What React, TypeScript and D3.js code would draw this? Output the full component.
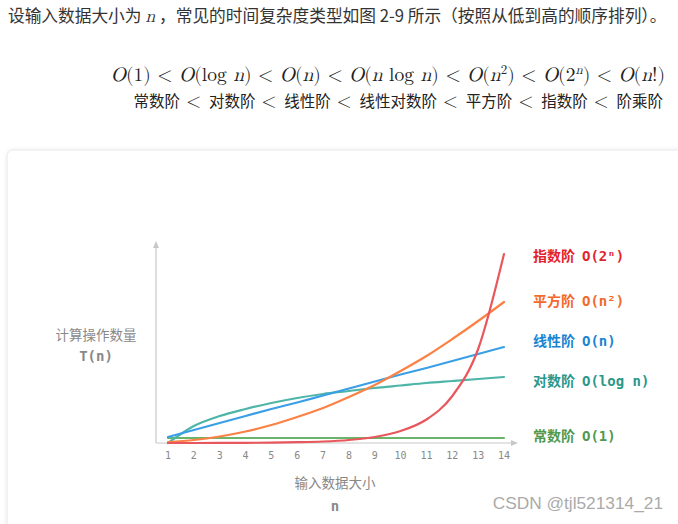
import React from "react";
import * as d3 from "d3";

const nValues = [1, 2, 3, 4, 5, 6, 7, 8, 9, 10, 11, 12, 13, 14];
const xTicks = [1, 2, 3, 4, 5, 6, 7, 8, 9, 10, 11, 12, 13, 14];
const constantVals = [5, 5, 5, 5, 5, 5, 5, 5, 5, 5, 5, 5, 5, 5];
const logVals = [0, 17, 27, 34, 40, 45, 49, 52, 55, 57.5, 60, 62, 64, 66];
const linearVals = [6, 13, 20, 27, 34, 40.5, 47.5, 54.5, 61.5, 68.5, 75, 82, 89, 96];
const quadVals = [1, 3, 6.5, 11.5, 18, 26, 35, 46, 58, 72, 87, 104, 122, 141];
const expVals = [0, 0, 0.1, 0.2, 0.4, 0.8, 1.5, 3, 6, 12, 23.5, 47, 94, 189];

const seriesNames = ["指数阶", "平方阶", "线性阶", "对数阶", "常数阶"];
const seriesNotations = ["O(2ⁿ)", "O(n²)", "O(n)", "O(log n)", "O(1)"];
const orderNames = ["常数阶", "对数阶", "线性阶", "线性对数阶", "平方阶", "指数阶", "阶乘阶"];

export default function App() {
  const W = 678, H = 524;
  const x = d3.scaleLinear().domain([1, 14]).range([168, 504]);
  const y = d3.scaleLinear().domain([0, 200]).range([443, 243]);
  const line = d3
    .line<number>()
    .x((_, i) => x(nValues[i]))
    .y((d) => y(d))
    .curve(d3.curveMonotoneX);

  const series = [
    { vals: expVals, line: "#e8575b", label: "#e3232c", ly: 261 },
    { vals: quadVals, line: "#fb8144", label: "#f2692b", ly: 306 },
    { vals: linearVals, line: "#3a9fe6", label: "#1b84d2", ly: 346 },
    { vals: logVals, line: "#4db5a7", label: "#2b978a", ly: 386 },
    { vals: constantVals, line: "#6ab46b", label: "#4f9a4f", ly: 441 },
  ];
  const drawOrder = [4, 3, 2, 1, 0];
  const sans = "'Noto Sans CJK SC', 'Noto Sans', sans-serif";
  const mono = "'DejaVu Sans Mono', monospace";
  const math = "'Latin Modern Math', 'DejaVu Serif', 'Liberation Serif', serif";
  const lt = (
    <tspan fontFamily={math} fontStyle="normal"> &lt; </tspan>
  );

  return (
    <svg width={W} height={H} style={{ position: "absolute", left: 0, top: 0 }}>
      <defs>
        <filter id="sh" x="-5%" y="-5%" width="110%" height="110%">
          <feDropShadow dx="0" dy="0" stdDeviation="2" floodColor="#000" floodOpacity="0.08" />
        </filter>
      </defs>
      <rect x={0} y={0} width={W} height={H} fill="#fff" />
      {/* header text */}
      <text x={8} y={22} fontFamily={sans} fontSize={16.7} fill="#333">
        设输入数据大小为{" "}
        <tspan fontFamily={math} fontStyle="italic" fontSize={18}>n</tspan>
        {" "}，常见的时间复杂度类型如图 2-9 所示（按照从低到高的顺序排列）。
      </text>
      <text x={665} y={81} textAnchor="end" fontFamily={math} fontSize={19.5} fill="#222">
        <tspan fontStyle="italic">O</tspan>(1){lt}<tspan fontStyle="italic">O</tspan>(log <tspan fontStyle="italic">n</tspan>){lt}<tspan fontStyle="italic">O</tspan>(<tspan fontStyle="italic">n</tspan>){lt}<tspan fontStyle="italic">O</tspan>(<tspan fontStyle="italic">n</tspan> log <tspan fontStyle="italic">n</tspan>){lt}<tspan fontStyle="italic">O</tspan>(<tspan fontStyle="italic">n</tspan><tspan dy={-7} fontSize={13}>2</tspan><tspan dy={7}>)</tspan>{lt}<tspan fontStyle="italic">O</tspan>(2<tspan dy={-7} fontSize={13} fontStyle="italic">n</tspan><tspan dy={7}>)</tspan>{lt}<tspan fontStyle="italic">O</tspan>(<tspan fontStyle="italic">n</tspan>!)
      </text>
      <text x={663} y={107} textAnchor="end" fontFamily={sans} fontSize={15.5} fill="#222">
        {orderNames.map((nm, i) => (
          <React.Fragment key={nm}>
            {i > 0 ? <tspan fontFamily={math} fontSize={19} dx={6}>&lt;</tspan> : null}
            <tspan dx={i > 0 ? 8 : 0}>{nm}</tspan>
          </React.Fragment>
        ))}
      </text>
      {/* card */}
      <rect x={7} y={150} width={690} height={400} rx={6} fill="#fff" stroke="#e8e8e8" strokeWidth={1} filter="url(#sh)" />
      {/* axes */}
      <line x1={156} y1={443} x2={156} y2={246} stroke="#c8c8c8" strokeWidth={1.2} />
      <path d="M153,248 L156,241 L159,248 Z" fill="#c8c8c8" />
      <line x1={156} y1={443} x2={513} y2={443} stroke="#c8c8c8" strokeWidth={1.2} />
      <path d="M511,440 L518,443 L511,446 Z" fill="#c8c8c8" />
      {xTicks.map((t) => (
        <text key={t} x={x(t)} y={459} textAnchor="middle" fontFamily={mono} fontSize={10} fill="#888">
          {t}
        </text>
      ))}
      {/* lines */}
      {drawOrder.map((i) => (
        <path key={i} d={line(series[i].vals) || ""} fill="none" stroke={series[i].line} strokeWidth={2.2} strokeLinecap="round" />
      ))}
      {/* labels */}
      {series.map((s, i) => (
        <text key={i} x={533} y={s.ly} fontFamily={sans} fontSize={14} fontWeight="bold" fill={s.label}>
          {seriesNames[i]}
          <tspan fontFamily={mono} fontSize={14} dx={7}>{seriesNotations[i]}</tspan>
        </text>
      ))}
      {/* axis titles */}
      <text x={96} y={340} textAnchor="middle" fontFamily={sans} fontSize={13.5} fill="#888">计算操作数量</text>
      <text x={96} y={361} textAnchor="middle" fontFamily={mono} fontSize={14} fontWeight="bold" fill="#888">T(n)</text>
      <text x={335} y={488} textAnchor="middle" fontFamily={sans} fontSize={13.5} fill="#888">输入数据大小</text>
      <text x={335} y={511} textAnchor="middle" fontFamily={mono} fontSize={14} fontWeight="bold" fill="#888">n</text>
      <text x={663} y={509} textAnchor="end" fontFamily="'Liberation Sans', Arial, sans-serif" fontSize={17.3} fill="#aaa">CSDN @tjl521314_21</text>
    </svg>
  );
}
